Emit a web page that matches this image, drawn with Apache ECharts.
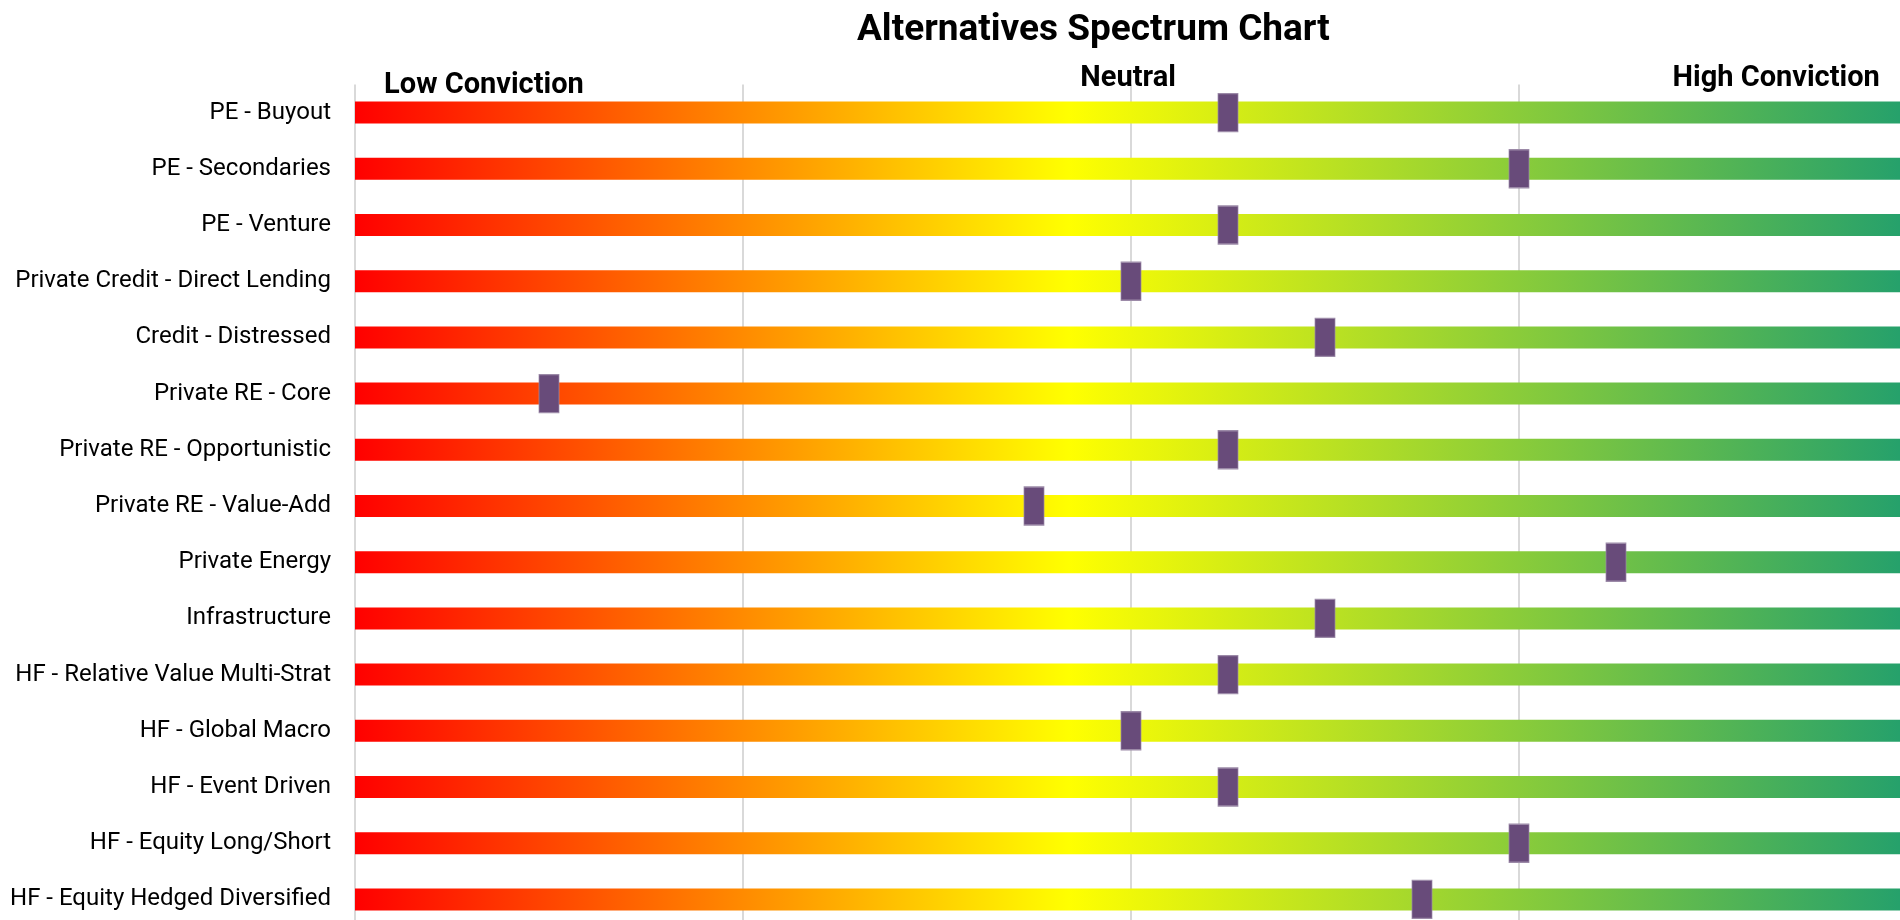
<!DOCTYPE html>
<html>
<head>
<meta charset="utf-8">
<title>Alternatives Spectrum Chart</title>
<script src="https://cdn.jsdelivr.net/npm/echarts@6/dist/echarts.min.js"></script>
<style>
  html, body { margin: 0; padding: 0; background: #fff; }
  #chart { width: 1900px; height: 920px; }
</style>
</head>
<body>
<div id="chart"></div>
<script>
// categories, top to bottom
var categories = [
  'PE - Buyout',
  'PE - Secondaries',
  'PE - Venture',
  'Private Credit - Direct Lending',
  'Credit - Distressed',
  'Private RE - Core',
  'Private RE - Opportunistic',
  'Private RE - Value-Add',
  'Private Energy',
  'Infrastructure',
  'HF - Relative Value Multi-Strat',
  'HF - Global Macro',
  'HF - Event Driven',
  'HF - Equity Long/Short',
  'HF - Equity Hedged Diversified'
];
// conviction score on a 0-16 scale
var scores = [9, 12, 9, 8, 10, 2, 9, 7, 13, 10, 9, 8, 9, 12, 11];
var scaleMin = 0;
var scaleMax = 16;
var scaleStep = 4;
// text over the spectrum: [text, value on the scale]
var headings = [
  ['Low Conviction', 0.3],
  ['Neutral', 7.97],
  ['High Conviction', 15.72]
];

var chart = echarts.init(document.getElementById('chart'));

// bar gradient red -> yellow -> green
var spectrum = new echarts.graphic.LinearGradient(0, 0, 1, 0, [
  { offset: 0, color: '#ff0000' },
  { offset: 0.46, color: '#ffff00' },
  { offset: 1, color: '#24a06c' }
]);

var option = {
  animation: false,
  title: {
    text: 'Alternatives Spectrum Chart',
    left: 852,
    top: 7,
    textStyle: {
      fontFamily: 'Roboto',
      fontWeight: 'bold',
      fontSize: 37,
      color: '#000'
    }
  },
  grid: {
    left: 355,
    width: 1552,
    top: 84.5,
    height: 843,
    containLabel: false,
    outerBoundsMode: 'none'
  },
  xAxis: {
    type: 'value',
    min: scaleMin,
    max: scaleMax,
    interval: scaleStep,
    axisLabel: { show: false },
    axisLine: { show: false },
    axisTick: { show: false },
    splitLine: { show: true, lineStyle: { color: '#d9d9d9', width: 2 } }
  },
  yAxis: {
    type: 'category',
    data: categories,
    inverse: true,
    axisLine: { show: false },
    axisTick: { show: false },
    axisLabel: {
      fontFamily: 'Roboto',
      fontSize: 24,
      color: '#000',
      margin: 24
    }
  },
  series: [
    {
      // full-width spectrum bar
      type: 'bar',
      data: categories.map(function () { return scaleMax; }),
      barWidth: 22,
      itemStyle: { color: spectrum },
      silent: true,
      z: 2
    },
    {
      // conviction marker
      type: 'scatter',
      data: scores.map(function (v, i) { return [v, categories[i]]; }),
      symbol: 'rect',
      symbolSize: [20, 38],
      itemStyle: {
        color: '#684b7a',
        opacity: 1,
        borderColor: '#9c8aa8',
        borderWidth: 1
      },
      z: 3
    }
  ]
};

chart.setOption(option);

// headings placed along the scale
var headTop = [86, 79, 79];
var aligns = ['left', 'center', 'right'];
var texts = headings.map(function (h, i) {
  var x = chart.convertToPixel({ xAxisIndex: 0 }, h[1]);
  return {
    type: 'text',
    x: x,
    y: headTop[i],
    style: {
      text: h[0],
      fontFamily: 'Roboto',
      fontWeight: 'bold',
      fontSize: 29,
      fill: '#000',
      align: aligns[i],
      verticalAlign: 'middle'
    },
    z: 10
  };
});
chart.setOption({ graphic: texts });
</script>
</body>
</html>
